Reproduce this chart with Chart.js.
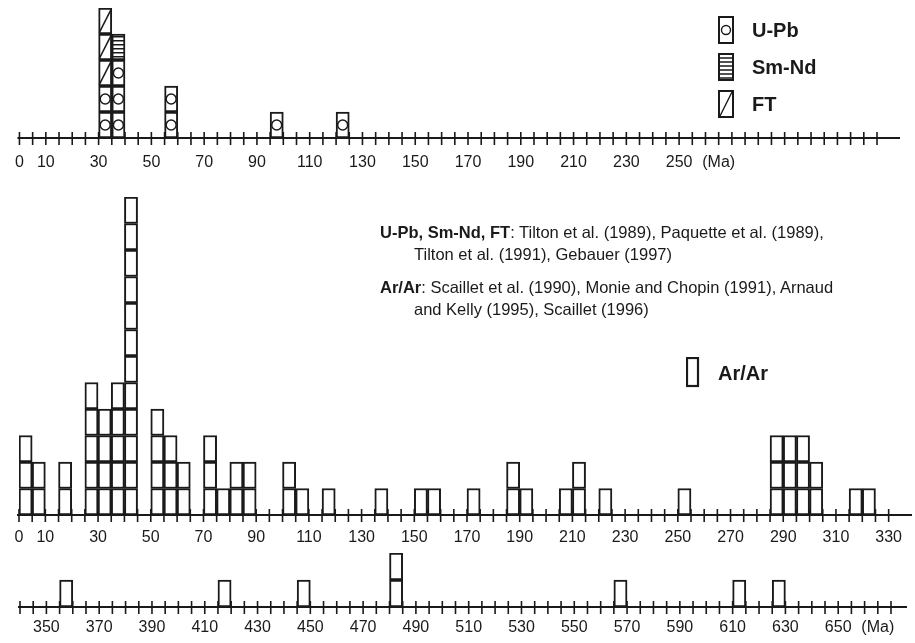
<!DOCTYPE html>
<html>
<head>
<meta charset="utf-8">
<script src="https://cdn.jsdelivr.net/npm/chart.js@4.4.1/dist/chart.umd.min.js"></script>
<style>
  body { margin: 0; background: #fff; }
  #wrap { position: relative; width: 915px; height: 643px; overflow: hidden;
          font-family: "Liberation Sans", Arial, sans-serif; color: #1a1a1a; }
  canvas { position: absolute; left: 0; }
  .refs { position: absolute; left: 380px; font-size: 16.5px; line-height: 22px; white-space: nowrap; }
  .refs div.in { padding-left: 34px; }
  .refs b { font-weight: bold; }
  .key { position: absolute; font-weight: bold; font-size: 20px; line-height: 24px; white-space: nowrap; }
  .box { position: absolute; }
</style>
</head>
<body>
<div id="wrap">
  <canvas id="topChart" width="915" height="180" style="top:0px"></canvas>
  <canvas id="arChart" width="915" height="368" style="top:180px"></canvas>
  <canvas id="oldChart" width="915" height="95" style="top:548px"></canvas>

  <!-- legend of the top panel -->
  <svg class="box" style="left:718px;top:16px" width="16" height="28">
    <rect x="1" y="1" width="14" height="26" fill="#fff" stroke="#1a1a1a" stroke-width="2"/>
    <circle cx="8" cy="14" r="4.5" fill="none" stroke="#1a1a1a" stroke-width="1.4"/>
  </svg>
  <div class="key" style="left:752px;top:18px">U-Pb</div>
  <svg class="box" style="left:718px;top:53px" width="16" height="28">
    <rect x="1" y="1" width="14" height="26" fill="#fff" stroke="#1a1a1a" stroke-width="2"/>
    <path d="M1 5H15M1 9H15M1 13H15M1 17H15M1 21H15M1 25H15" stroke="#1a1a1a" stroke-width="1.5"/>
  </svg>
  <div class="key" style="left:752px;top:55px">Sm-Nd</div>
  <svg class="box" style="left:718px;top:90px" width="16" height="28">
    <rect x="1" y="1" width="14" height="26" fill="#fff" stroke="#1a1a1a" stroke-width="2"/>
    <path d="M2 26L14 2" stroke="#1a1a1a" stroke-width="1.4"/>
  </svg>
  <div class="key" style="left:752px;top:92px">FT</div>

  <div class="refs" style="top:221px">
    <div><b>U-Pb, Sm-Nd, FT</b>: Tilton et al. (1989), Paquette et al. (1989),</div>
    <div class="in">Tilton et al. (1991), Gebauer (1997)</div>
  </div>
  <div class="refs" style="top:276px">
    <div><b>Ar/Ar</b>: Scaillet et al. (1990), Monie and Chopin (1991), Arnaud</div>
    <div class="in">and Kelly (1995), Scaillet (1996)</div>
  </div>

  <svg class="box" style="left:686px;top:357px" width="14" height="31">
    <rect x="1" y="1" width="11" height="28" fill="#fff" stroke="#1a1a1a" stroke-width="2.2"/>
  </svg>
  <div class="key" style="left:718px;top:361px">Ar/Ar</div>
</div>

<script>
// bin width is 5 Ma, bins are given by their younger edge
const step = 5;
const ink = '#1a1a1a';

// top panel: U-Pb, Sm-Nd, FT ages
const topBins  = [30, 35, 55, 95, 120];
const topUPb   = [2, 3, 2, 1, 1];
const topSmNd  = [0, 1, 0, 0, 0];
const topFT    = [3, 0, 0, 0, 0];
const topTicks = [0, 10, 30, 50, 70, 90, 110, 130, 150, 170, 190, 210, 230, 250];

// Ar/Ar ages, 0 - 330 Ma
const arBins  = [0, 5, 15, 25, 30, 35, 40, 50, 55, 60, 70, 75, 80, 85, 100, 105, 115, 135,
                 150, 155, 170, 185, 190, 205, 210, 220, 250, 285, 290, 295, 300, 315, 320];
const arCount = [3, 2, 2, 5, 4, 5, 12, 4, 3, 2, 3, 1, 2, 2, 2, 1, 1, 1,
                 1, 1, 1, 2, 1, 1, 2, 1, 1, 3, 3, 3, 2, 1, 1];
const arTicks = [0, 10, 30, 50, 70, 90, 110, 130, 150, 170, 190, 210, 230, 250, 270, 290, 310, 330];

// Ar/Ar ages, 340 - 670 Ma
const oldBins  = [355, 415, 445, 480, 565, 610, 625];
const oldCount = [1, 1, 1, 2, 1, 1, 1];
const oldTicks = [350, 370, 390, 410, 430, 450, 470, 490, 510, 530, 550, 570, 590, 610, 630, 650];

// horizontal hatching used for Sm-Nd cells
const hatchCanvas = document.createElement('canvas');
hatchCanvas.width = 8; hatchCanvas.height = 4;
const hctx = hatchCanvas.getContext('2d');
hctx.fillStyle = '#fff'; hctx.fillRect(0, 0, 8, 4);
hctx.fillStyle = ink; hctx.fillRect(0, 0, 8, 1.5);
const hatch = hctx.createPattern(hatchCanvas, 'repeat');

// axis line with ticks crossing it at every bin edge
const axisTicks = {
  id: 'axisTicks',
  afterDatasetsDraw(chart, args, opts) {
    const sc = chart.scales.x;
    const y0 = chart.chartArea.bottom;
    const ctx = chart.ctx;
    ctx.save();
    ctx.strokeStyle = ink;
    ctx.lineWidth = 2;
    ctx.beginPath();
    ctx.moveTo(sc.getPixelForValue(sc.min) - 2, y0);
    ctx.lineTo(opts.lineEnd, y0);
    ctx.stroke();
    ctx.lineWidth = 1.6;
    for (let v = sc.min; v <= sc.max; v += step) {
      const x = sc.getPixelForValue(v);
      ctx.beginPath();
      ctx.moveTo(x, y0 - 6);
      ctx.lineTo(x, y0 + 7);
      ctx.stroke();
    }
    ctx.restore();
  }
};

function makeHist(id, o) {
  const cats = [];
  for (let v = o.min; v < o.max; v += step) cats.push(v);

  // one dataset per height level, so every counted age is its own box
  const datasets = [];
  for (let L = 1; L <= o.yMax; L++) {
    datasets.push({
      type: 'bar',
      xAxisID: 'xc',
      yAxisID: 'y',
      data: cats.map((c) => {
        const j = o.bins.indexOf(c);
        return j >= 0 && o.totals[j] >= L ? [L - 1, L] : null;
      }),
      backgroundColor: cats.map((c) => {
        const j = o.bins.indexOf(c);
        return j >= 0 && o.fill ? o.fill(j, L) : '#fff';
      }),
      borderColor: ink,
      borderWidth: 2,
      borderSkipped: false,
      barPercentage: 1,
      categoryPercentage: 1,
      grouped: false,
      order: 2
    });
  }

  return new Chart(document.getElementById(id), {
    type: 'bar',
    data: { labels: cats, datasets: datasets.concat(o.extra || []) },
    options: {
      responsive: false,
      animation: false,
      events: [],
      devicePixelRatio: 1,
      layout: { autoPadding: false, padding: { left: o.left, right: 915 - o.right, top: o.padTop, bottom: 0 } },
      scales: {
        xc: { type: 'category', display: false, offset: true },
        x: {
          type: 'linear',
          position: 'bottom',
          offset: false,
          min: o.min,
          max: o.max,
          grid: { display: false, drawTicks: false, offset: false },
          border: { display: false },
          afterFit: (s) => { s.height = o.axisH; },
          ticks: {
            stepSize: step,
            maxTicksLimit: 200,
            autoSkip: false,
            maxRotation: 0,
            padding: o.tickPad,
            color: ink,
            font: { family: 'Liberation Sans', size: 16 },
            callback: (v) => {
              if (o.ticks.includes(v)) return String(v);
              if (v === o.unitAt) return '(Ma)';
              return '';
            }
          }
        },
        y: { display: false, min: 0, max: o.yMax }
      },
      plugins: {
        legend: { display: false },
        tooltip: { enabled: false },
        axisTicks: { lineEnd: o.lineEnd }
      }
    },
    plugins: [axisTicks]
  });
}

// top panel
const topTotals = topBins.map((b, j) => topUPb[j] + topSmNd[j] + topFT[j]);
const upbPoints = [];
const ftPoints = [];
topBins.forEach((b, j) => {
  for (let L = 1; L <= topUPb[j]; L++) upbPoints.push({ x: b + step / 2, y: L - 0.5 });
  for (let L = topUPb[j] + topSmNd[j] + 1; L <= topTotals[j]; L++) ftPoints.push({ x: b + step / 2, y: L - 0.5 });
});

makeHist('topChart', {
  min: 0, max: 325, left: 19, right: 877, padTop: 8, yMax: 5, axisH: 42, tickPad: 15,
  lineEnd: 900, ticks: topTicks, unitAt: 265,
  bins: topBins, totals: topTotals,
  fill: (j, L) => (L > topUPb[j] && L <= topUPb[j] + topSmNd[j] ? hatch : '#fff'),
  extra: [
    {
      type: 'scatter', label: 'U-Pb', xAxisID: 'x', yAxisID: 'y', data: upbPoints,
      pointStyle: 'circle', pointRadius: 5, pointBorderWidth: 1.5,
      pointBorderColor: ink, pointBackgroundColor: '#fff', order: 1, clip: false
    },
    {
      type: 'scatter', label: 'FT', xAxisID: 'x', yAxisID: 'y', data: ftPoints,
      pointStyle: 'line', pointRadius: 13, pointRotation: -63, pointBorderWidth: 1.5,
      pointBorderColor: ink, order: 1, clip: false
    }
  ]
});

// Ar/Ar, young part
makeHist('arChart', {
  min: 0, max: 330, left: 19, right: 890, padTop: 17, yMax: 12, axisH: 33, tickPad: 13,
  lineEnd: 912, ticks: arTicks, unitAt: null,
  bins: arBins, totals: arCount
});

// Ar/Ar, old part
makeHist('oldChart', {
  min: 340, max: 670, left: 20, right: 891, padTop: 5, yMax: 2, axisH: 36, tickPad: 11,
  lineEnd: 907, ticks: oldTicks, unitAt: 665,
  bins: oldBins, totals: oldCount
});
</script>
</body>
</html>
